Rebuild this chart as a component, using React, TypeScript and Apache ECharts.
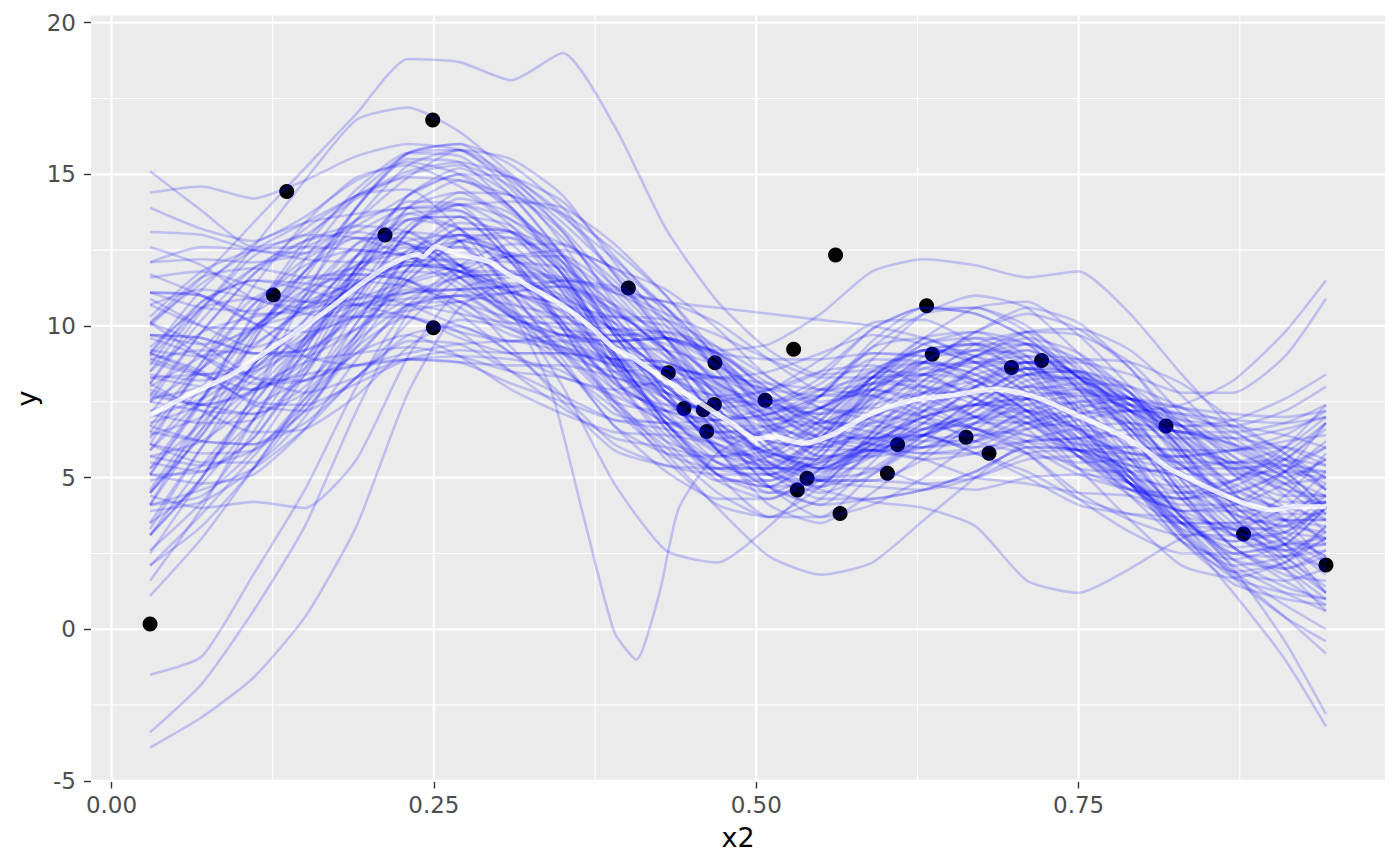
import React, { useEffect, useRef } from "react";
import * as echarts from "echarts";

const X_GRID = [0.0299, 0.07, 0.11, 0.15, 0.19, 0.23, 0.27, 0.31, 0.35, 0.39, 0.43, 0.47, 0.51, 0.55, 0.59, 0.63, 0.67, 0.71, 0.75, 0.79, 0.83, 0.87, 0.91, 0.9418];

const DRAWS = [
  [11.1, 11.0, 10.4, 10.5, 12.3, 14.3, 15.2, 14.3, 12.3, 9.7, 7.6, 6.3, 6.5, 7.7, 9.3, 9.6, 8.8, 7.8, 6.5, 5.8, 5.7, 5.9, 6.4, 7.2],
  [3.1, 5.0, 7.4, 9.5, 10.3, 10.3, 9.6, 9.1, 9.1, 8.9, 8.8, 7.9, 6.1, 4.9, 4.9, 5.6, 6.8, 7.8, 7.7, 6.6, 4.5, 2.7, 1.6, 0.8],
  [5.1, 7.5, 10.4, 12.8, 14.3, 14.5, 13.2, 11.1, 9.1, 7.5, 7.2, 7.5, 7.9, 8.5, 8.7, 8.0, 7.0, 6.2, 5.3, 5.2, 5.3, 5.5, 5.4, 4.8],
  [9.1, 8.5, 7.4, 7.2, 8.3, 10.1, 11.6, 12.3, 12.3, 11.1, 9.2, 6.7, 4.7, 4.1, 5.5, 7.2, 8.6, 9.4, 8.9, 7.2, 4.9, 3.1, 2.6, 3.2],
  [12.6, 12.0, 10.9, 10.6, 10.9, 11.5, 12.0, 12.3, 12.5, 11.9, 10.6, 8.5, 6.5, 5.5, 5.9, 6.8, 8.0, 9.0, 8.9, 7.8, 5.9, 3.9, 2.4, 1.4],
  [1.6, 4.0, 6.9, 9.4, 11.7, 13.1, 12.8, 11.1, 8.9, 6.7, 5.8, 5.7, 6.1, 7.1, 8.3, 8.4, 7.6, 6.6, 5.3, 4.6, 4.3, 4.7, 5.6, 6.6],
  [8.1, 10.5, 12.3, 13.0, 12.9, 12.3, 11.2, 10.1, 9.7, 9.5, 9.6, 9.1, 8.1, 7.3, 7.1, 6.8, 6.4, 6.6, 6.9, 7.2, 7.1, 6.9, 6.8, 7.0],
  [6.1, 5.5, 5.5, 7.0, 9.7, 12.3, 13.6, 13.3, 11.7, 9.1, 6.8, 5.1, 4.5, 5.3, 7.1, 8.4, 9.2, 9.0, 7.3, 5.2, 3.1, 1.7, 1.2, 1.0],
  [2.6, 4.2, 6.5, 9.2, 11.9, 13.9, 14.4, 13.3, 11.3, 8.7, 6.6, 5.1, 4.7, 5.7, 7.7, 9.0, 9.4, 8.8, 7.1, 5.2, 3.5, 2.7, 3.0, 4.2],
  [11.6, 11.8, 11.3, 10.8, 10.7, 10.7, 10.4, 10.1, 10.1, 9.9, 9.8, 9.1, 7.9, 6.9, 6.5, 6.2, 6.2, 6.8, 7.1, 7.2, 6.7, 5.9, 5.0, 3.8],
  [9.6, 9.0, 8.3, 8.2, 9.1, 10.7, 12.0, 12.7, 12.7, 11.5, 9.6, 7.3, 5.3, 4.5, 5.1, 6.2, 7.4, 8.4, 8.5, 8.0, 6.7, 5.1, 3.6, 2.2],
  [4.6, 7.0, 9.5, 11.8, 13.5, 13.9, 12.8, 10.7, 8.7, 7.1, 6.8, 6.9, 7.3, 8.1, 9.1, 9.0, 8.2, 7.2, 5.7, 4.4, 3.5, 3.5, 4.4, 5.8],
  [6.1, 5.8, 5.9, 7.2, 9.5, 11.9, 13.2, 13.1, 11.9, 9.7, 7.8, 6.3, 5.9, 6.7, 8.3, 9.4, 9.8, 9.4, 7.9, 6.0, 3.9, 2.3, 1.4, 1.0],
  [8.1, 10.2, 11.9, 12.8, 13.1, 12.7, 11.6, 10.3, 9.5, 8.9, 8.6, 7.9, 6.7, 5.9, 5.9, 5.8, 5.8, 6.2, 6.3, 6.4, 6.3, 6.3, 6.6, 7.0],
  [10.1, 11.6, 11.9, 11.6, 11.5, 11.3, 10.8, 10.3, 10.3, 10.3, 10.2, 9.3, 7.7, 6.5, 6.3, 6.4, 7.0, 8.0, 8.3, 7.8, 6.3, 4.7, 4.0, 4.4],
  [4.1, 4.4, 5.9, 8.4, 11.1, 13.3, 14.0, 13.1, 11.1, 8.3, 6.2, 4.9, 4.9, 6.1, 7.9, 8.8, 8.6, 7.6, 5.9, 4.6, 3.9, 3.9, 4.0, 3.6],
  [7.1, 9.2, 10.9, 11.6, 11.7, 11.5, 10.8, 9.9, 9.3, 8.7, 8.6, 8.3, 7.9, 7.7, 7.7, 7.2, 6.6, 6.0, 5.1, 4.6, 4.5, 4.9, 5.8, 6.8],
  [7.1, 6.8, 6.9, 8.4, 10.9, 13.1, 14.0, 13.5, 12.1, 9.9, 7.8, 5.9, 4.7, 4.9, 6.5, 8.0, 9.0, 9.6, 9.1, 7.8, 5.7, 3.7, 2.2, 1.2],
  [4.1, 7.0, 9.7, 11.8, 12.9, 12.9, 11.8, 10.5, 9.9, 9.7, 9.8, 9.3, 8.3, 7.3, 6.9, 6.4, 6.0, 6.2, 6.3, 6.6, 6.5, 6.1, 5.2, 4.0],
  [10.1, 9.0, 8.1, 8.2, 9.7, 11.7, 13.0, 12.9, 11.5, 8.9, 6.6, 4.9, 4.3, 5.3, 7.3, 8.8, 9.6, 9.4, 7.9, 5.8, 3.7, 2.5, 2.8, 4.0],
  [8.9, 8.4, 7.9, 8.6, 10.7, 13.1, 14.4, 14.3, 13.1, 10.7, 8.2, 5.9, 4.5, 4.7, 6.5, 8.2, 9.4, 9.8, 8.7, 6.8, 4.5, 2.7, 2.0, 2.4],
  [5.3, 7.6, 9.9, 11.4, 11.9, 11.5, 10.4, 9.1, 8.3, 7.9, 8.2, 8.3, 8.1, 7.9, 7.7, 7.0, 6.2, 5.8, 5.5, 5.6, 5.7, 5.9, 6.0, 5.6],
  [2.1, 3.4, 5.3, 7.8, 10.5, 12.5, 13.0, 12.1, 10.5, 8.5, 7.2, 6.5, 6.5, 7.3, 8.5, 8.8, 8.4, 7.6, 6.3, 5.2, 4.5, 4.5, 5.2, 6.2],
  [12.1, 12.6, 12.5, 12.2, 12.1, 12.1, 11.8, 11.3, 10.9, 10.1, 9.2, 7.7, 6.1, 5.3, 5.7, 6.4, 7.2, 8.0, 7.9, 7.2, 5.7, 4.1, 2.8, 1.8],
  [7.9, 7.4, 7.1, 7.8, 9.7, 11.9, 13.2, 13.1, 11.7, 9.1, 6.8, 5.1, 4.7, 5.9, 8.1, 9.4, 9.6, 8.8, 6.9, 4.8, 2.9, 1.9, 2.2, 3.4],
  [6.3, 8.6, 10.7, 12.2, 12.9, 12.7, 11.6, 10.3, 9.7, 9.5, 9.6, 9.1, 7.9, 6.7, 6.1, 5.8, 6.0, 6.8, 7.3, 7.6, 7.3, 6.7, 5.8, 4.6],
  [9.1, 10.8, 11.5, 11.4, 11.1, 10.7, 10.0, 9.5, 9.5, 9.5, 9.6, 8.9, 7.5, 6.3, 5.9, 5.6, 5.8, 6.6, 7.1, 7.4, 7.1, 6.5, 5.6, 4.6],
  [5.1, 5.2, 6.3, 8.6, 11.5, 13.9, 14.8, 13.9, 11.9, 9.1, 6.8, 5.3, 5.1, 6.3, 8.3, 9.6, 9.8, 9.0, 7.1, 5.0, 3.1, 2.1, 2.4, 3.4],
  [5.5, 5.2, 6.3, 8.8, 11.9, 14.3, 15.0, 13.9, 11.7, 8.9, 6.8, 5.5, 5.3, 6.3, 7.9, 8.6, 8.2, 7.2, 5.7, 4.6, 4.3, 4.9, 6.0, 7.4],
  [8.7, 10.8, 11.5, 11.2, 10.7, 10.3, 9.8, 9.5, 9.7, 9.7, 9.6, 8.7, 7.3, 6.3, 6.3, 6.6, 7.4, 8.4, 8.5, 7.8, 5.9, 3.7, 2.0, 0.6],
  [10.9, 10.0, 9.3, 10.0, 11.9, 13.5, 13.6, 12.1, 9.9, 7.5, 6.2, 5.7, 5.9, 6.9, 8.3, 8.8, 8.4, 7.4, 5.9, 4.8, 4.1, 4.1, 4.8, 5.6],
  [3.3, 6.0, 8.5, 10.0, 10.7, 11.1, 11.2, 11.3, 11.5, 11.1, 10.2, 8.5, 6.7, 5.7, 5.9, 6.4, 7.2, 8.2, 8.3, 7.6, 6.1, 4.5, 3.2, 2.4],
  [4.5, 6.4, 8.7, 10.8, 12.3, 12.7, 12.0, 11.1, 10.7, 10.3, 10.0, 8.9, 7.3, 6.1, 5.9, 6.0, 6.6, 7.6, 7.9, 7.6, 6.3, 4.5, 2.8, 1.2],
  [9.7, 9.6, 9.1, 9.2, 10.3, 11.9, 12.8, 12.3, 10.7, 8.3, 6.4, 5.3, 5.3, 6.5, 8.3, 9.2, 9.0, 8.0, 6.3, 4.8, 3.9, 4.1, 5.2, 6.8],
  [13.1, 13.0, 12.5, 12.4, 13.1, 13.9, 13.8, 12.7, 11.1, 9.1, 7.8, 7.1, 6.9, 7.3, 8.1, 8.2, 7.8, 7.2, 6.3, 5.8, 5.5, 5.5, 5.6, 5.4],
  [1.1, 3.0, 5.3, 7.6, 9.5, 10.7, 11.0, 10.7, 10.3, 9.5, 8.6, 7.1, 5.7, 5.3, 6.1, 7.0, 7.8, 8.4, 7.9, 6.6, 4.7, 3.1, 2.4, 2.6],
  [6.5, 8.6, 9.9, 10.4, 10.7, 10.9, 11.0, 11.1, 11.5, 11.3, 10.6, 8.9, 6.9, 5.7, 5.7, 6.0, 6.8, 7.8, 8.1, 8.0, 7.3, 6.3, 5.2, 4.0],
  [7.7, 7.4, 7.9, 9.6, 11.9, 13.7, 13.8, 12.3, 9.9, 7.3, 5.8, 5.3, 5.7, 6.9, 8.5, 9.2, 8.8, 7.8, 6.1, 4.4, 2.9, 2.3, 2.8, 4.0],
  [8.5, 9.8, 10.3, 10.6, 11.3, 12.3, 12.8, 12.3, 10.9, 8.7, 7.0, 5.9, 5.7, 6.5, 7.7, 8.0, 7.6, 7.0, 6.1, 5.6, 5.3, 5.3, 5.4, 5.2],
  [5.7, 6.2, 7.5, 9.4, 11.3, 12.3, 12.0, 11.1, 10.5, 9.9, 9.4, 8.3, 6.9, 6.1, 6.5, 7.2, 8.0, 8.6, 8.1, 6.8, 4.9, 3.3, 2.6, 2.8],
  [5.9, 7.6, 9.3, 10.6, 11.5, 12.1, 12.2, 12.1, 11.9, 10.7, 9.0, 6.9, 5.1, 4.7, 5.9, 7.4, 8.6, 9.2, 8.3, 6.6, 4.5, 3.3, 3.4, 4.4],
  [8.3, 8.4, 8.5, 9.4, 11.1, 12.5, 12.6, 11.3, 9.5, 7.9, 7.4, 7.3, 7.5, 7.9, 8.3, 7.8, 7.0, 6.4, 5.9, 5.8, 5.7, 5.3, 4.6, 3.6],
  [9.7, 9.6, 9.1, 9.0, 9.9, 11.5, 12.8, 13.1, 12.3, 10.1, 7.8, 5.9, 5.1, 5.9, 7.9, 9.2, 9.4, 8.6, 6.7, 4.8, 3.3, 2.9, 3.6, 4.8],
  [4.5, 6.4, 8.7, 11.0, 12.7, 13.1, 12.0, 10.3, 9.1, 8.5, 8.6, 8.3, 7.5, 6.7, 6.3, 6.0, 6.2, 7.0, 7.5, 7.6, 6.9, 5.7, 4.4, 3.2],
  [3.5, 4.8, 6.9, 9.6, 12.3, 14.1, 14.0, 12.3, 10.1, 7.9, 6.8, 6.5, 6.7, 7.3, 7.9, 7.6, 7.0, 6.8, 6.7, 6.8, 6.5, 6.1, 5.6, 5.0],
  [10.7, 11.2, 10.9, 10.4, 10.3, 10.5, 10.8, 11.1, 11.3, 10.7, 9.6, 7.7, 5.9, 5.3, 6.3, 7.6, 8.6, 8.8, 7.5, 5.6, 3.7, 2.5, 2.4, 3.0],
  [7.5, 9.8, 11.7, 12.8, 13.3, 13.1, 12.0, 10.5, 9.3, 8.3, 8.0, 7.7, 7.3, 7.1, 7.3, 7.0, 6.6, 6.4, 6.1, 6.0, 5.9, 5.9, 6.2, 6.4],
  [6.7, 6.2, 6.1, 7.2, 9.3, 11.5, 12.8, 12.9, 12.1, 10.3, 8.4, 6.5, 5.3, 5.5, 6.9, 8.2, 9.0, 9.2, 8.1, 6.4, 4.3, 2.7, 1.8, 1.6],
  [11.7, 11.0, 10.1, 9.8, 10.3, 11.1, 11.6, 11.7, 11.5, 10.5, 9.2, 7.3, 5.5, 4.9, 5.7, 6.8, 8.0, 8.8, 8.5, 7.4, 5.5, 3.7, 2.6, 2.0],
  [2.5, 5.0, 7.7, 10.2, 12.3, 13.5, 13.2, 11.7, 9.9, 8.1, 7.2, 6.9, 7.1, 7.7, 8.5, 8.4, 7.6, 6.8, 5.7, 5.0, 4.7, 4.9, 5.4, 6.0],
  [4.9, 5.4, 6.9, 9.2, 11.7, 13.5, 13.6, 12.1, 10.1, 8.1, 7.2, 6.9, 7.1, 7.9, 8.9, 8.8, 8.0, 7.0, 5.7, 4.8, 4.3, 4.5, 5.2, 6.0],
  [9.3, 10.6, 10.9, 10.8, 10.9, 11.1, 11.2, 11.3, 11.3, 10.5, 9.2, 7.3, 5.5, 4.7, 5.3, 6.4, 7.6, 8.6, 8.5, 7.6, 5.9, 4.1, 2.8, 2.0],
  [8.3, 8.0, 7.9, 8.8, 10.9, 13.1, 14.2, 13.7, 12.1, 9.7, 7.6, 6.1, 5.5, 6.3, 8.1, 9.2, 9.2, 8.4, 6.7, 5.0, 3.5, 2.9, 3.2, 4.0],
  [5.9, 8.0, 9.9, 11.2, 11.7, 11.5, 10.6, 9.7, 9.3, 8.9, 8.8, 8.1, 7.1, 6.3, 6.1, 6.0, 6.4, 7.2, 7.5, 7.4, 6.7, 5.7, 4.8, 4.0],
  [6.7, 8.8, 10.7, 12.0, 12.5, 12.3, 11.4, 10.3, 9.7, 9.3, 9.2, 8.7, 7.7, 6.9, 6.7, 6.6, 6.8, 7.4, 7.7, 7.6, 6.7, 5.3, 4.0, 2.8],
  [7.5, 7.2, 7.1, 8.0, 10.1, 12.3, 13.4, 13.1, 11.7, 9.3, 7.2, 5.5, 4.9, 5.7, 7.5, 8.6, 8.8, 8.2, 6.5, 4.8, 3.5, 3.3, 4.0, 5.2],
  [10.3, 11.8, 12.5, 12.6, 12.5, 12.3, 11.8, 11.1, 10.7, 9.9, 9.0, 7.5, 5.9, 5.3, 6.1, 7.2, 8.2, 8.8, 8.3, 7.0, 5.1, 3.5, 2.8, 2.8],
  [3.9, 4.2, 5.3, 7.4, 10.1, 12.3, 13.0, 12.3, 10.7, 8.7, 7.4, 6.7, 6.7, 7.3, 8.1, 8.0, 7.4, 6.8, 5.9, 5.4, 5.1, 5.1, 5.2, 5.2],
  [5.3, 6.8, 8.7, 10.8, 12.7, 13.7, 13.2, 11.7, 10.1, 8.5, 7.8, 7.5, 7.5, 7.7, 7.9, 7.4, 6.6, 6.2, 5.9, 6.0, 5.9, 5.5, 4.8, 3.8],
  [8.9, 9.2, 9.1, 9.2, 9.9, 10.9, 11.6, 11.7, 11.3, 10.1, 8.6, 6.7, 5.1, 4.9, 6.3, 7.8, 9.0, 9.4, 8.3, 6.4, 4.3, 3.1, 3.2, 4.2],
  [10.1, 11.4, 12.5, 13.4, 14.3, 15.1, 15.4, 14.9, 13.7, 11.7, 9.8, 8.1, 7.5, 8.3, 9.9, 10.6, 10.4, 9.6, 8.3, 7.6, 7.3, 7.1, 7.0, 7.2],
  [4.1, 4.6, 5.3, 6.6, 8.3, 9.5, 9.4, 8.5, 7.7, 6.9, 6.6, 6.1, 5.1, 4.3, 4.3, 4.6, 5.2, 6.0, 5.9, 4.8, 2.9, 1.5, 1.0, 0.8],
  [5.1, 7.6, 10.3, 12.6, 14.5, 15.7, 15.6, 14.3, 12.3, 9.9, 8.4, 7.7, 7.9, 8.9, 10.1, 10.2, 9.4, 8.4, 7.3, 6.8, 6.5, 6.3, 6.0, 5.4],
  [9.1, 8.4, 7.5, 7.4, 8.1, 8.9, 9.2, 9.1, 9.1, 8.7, 8.0, 6.5, 4.7, 3.7, 4.1, 5.0, 6.2, 7.2, 6.9, 5.6, 3.7, 2.3, 2.0, 2.6],
  [11.1, 10.6, 10.5, 11.8, 13.9, 15.7, 16.0, 14.7, 12.7, 10.3, 8.8, 8.3, 8.5, 9.1, 9.7, 9.4, 8.8, 8.8, 8.9, 8.8, 8.1, 6.9, 5.8, 5.0],
  [3.1, 5.4, 7.3, 8.2, 8.7, 8.9, 8.8, 8.7, 8.7, 8.3, 7.6, 5.9, 4.1, 3.5, 4.5, 5.8, 6.8, 6.8, 5.3, 3.6, 2.1, 1.7, 2.2, 3.0],
  [7.7, 9.8, 11.7, 13.2, 14.3, 14.9, 14.8, 14.3, 13.7, 12.5, 11.0, 9.1, 7.5, 7.1, 8.3, 9.6, 10.6, 10.8, 9.7, 8.0, 6.3, 5.5, 6.0, 7.0],
  [6.5, 6.2, 6.1, 6.8, 8.3, 9.7, 10.0, 9.1, 7.7, 6.1, 5.4, 5.1, 5.1, 5.5, 5.9, 5.6, 5.0, 4.8, 4.5, 4.4, 3.9, 3.1, 2.0, 1.0],
  [12.1, 12.2, 12.1, 12.4, 13.5, 14.9, 15.8, 15.5, 14.3, 12.1, 10.0, 8.1, 7.1, 7.7, 9.3, 10.4, 10.6, 10.0, 8.5, 7.2, 6.5, 6.5, 6.8, 7.4],
  [2.1, 3.8, 5.7, 7.6, 9.1, 9.7, 9.0, 7.9, 7.1, 6.5, 6.4, 6.1, 5.5, 4.9, 4.9, 4.8, 5.0, 5.6, 5.7, 5.2, 3.7, 2.1, 1.2, 0.6],
  [6.1, 8.8, 11.3, 13.4, 14.9, 15.3, 14.6, 13.5, 12.7, 11.9, 11.2, 9.9, 8.3, 7.5, 7.9, 8.8, 9.8, 10.4, 9.9, 8.6, 6.7, 5.1, 4.4, 4.4],
  [8.1, 7.2, 6.5, 6.6, 7.7, 9.3, 10.2, 9.9, 8.7, 6.7, 5.2, 4.3, 4.3, 5.1, 6.3, 6.4, 5.8, 5.2, 4.3, 3.8, 3.5, 3.5, 3.6, 3.6],
  [9.1, 11.2, 12.7, 13.4, 13.7, 13.9, 14.0, 14.1, 13.9, 12.7, 11.0, 8.9, 7.3, 7.3, 8.9, 10.4, 11.0, 10.6, 9.1, 7.6, 6.7, 6.7, 7.2, 8.0],
  [5.1, 4.8, 5.1, 6.6, 8.9, 10.7, 10.8, 9.3, 7.5, 5.9, 5.4, 5.3, 5.3, 5.3, 5.3, 4.8, 4.6, 5.0, 5.1, 4.8, 3.5, 1.9, 0.8, 0.0],
  [10.7, 10.0, 9.9, 11.2, 13.5, 15.3, 15.8, 14.9, 13.1, 10.9, 9.6, 9.1, 8.9, 8.9, 9.1, 9.0, 9.2, 9.8, 9.7, 8.8, 7.1, 5.5, 5.0, 5.6],
  [3.5, 6.0, 7.9, 8.8, 9.1, 9.3, 9.0, 8.5, 8.3, 7.7, 6.8, 5.1, 3.7, 3.7, 5.1, 6.2, 6.4, 5.8, 4.5, 3.6, 3.1, 3.1, 3.0, 2.4],
  [4.1, 6.6, 9.5, 12.2, 14.3, 15.7, 16.0, 15.3, 13.9, 11.7, 9.6, 7.7, 6.9, 7.7, 9.5, 10.6, 10.6, 9.8, 8.3, 7.2, 6.7, 6.9, 7.6, 8.4],
  [10.1, 9.4, 8.3, 7.8, 8.3, 8.9, 8.8, 8.1, 7.5, 6.9, 6.8, 6.5, 5.7, 4.9, 4.7, 4.6, 5.0, 5.8, 5.9, 5.2, 3.5, 1.7, 0.4, -0.4],
  [8.5, 10.6, 11.9, 12.6, 13.3, 14.3, 15.0, 14.9, 14.1, 12.3, 10.4, 8.7, 7.9, 8.5, 9.9, 10.6, 10.4, 9.6, 8.3, 7.4, 6.9, 6.7, 6.4, 6.0],
  [5.7, 5.4, 5.9, 7.4, 9.3, 10.3, 9.8, 8.5, 7.3, 6.3, 6.0, 5.5, 4.7, 4.1, 4.3, 4.6, 5.2, 6.0, 5.9, 5.0, 3.3, 1.9, 1.6, 2.0],
  [3.1, 5.0, 7.7, 11.0, 13.9, 15.7, 15.8, 14.5, 12.9, 11.3, 10.4, 9.7, 8.9, 8.3, 8.3, 8.4, 9.0, 9.8, 9.9, 9.2, 7.7, 6.1, 5.2, 5.0],
  [11.1, 11.0, 10.1, 9.0, 8.7, 8.9, 9.0, 8.9, 8.5, 7.3, 6.0, 4.5, 3.7, 4.3, 5.9, 6.8, 6.6, 5.8, 4.3, 3.2, 2.5, 2.5, 2.8, 3.0],
  [9.7, 9.4, 9.9, 11.6, 13.9, 15.5, 15.4, 13.9, 12.3, 11.1, 10.8, 10.1, 8.9, 7.9, 8.1, 8.8, 9.8, 10.6, 10.1, 8.6, 6.5, 5.3, 5.6, 6.8],
  [4.5, 6.6, 7.9, 8.4, 8.7, 9.1, 9.4, 9.5, 9.1, 7.5, 5.6, 4.1, 3.7, 4.7, 6.1, 6.4, 5.8, 5.0, 4.1, 3.8, 3.7, 3.3, 2.4, 1.2],
  [-3.4, -1.8, 0.6, 3.4, 7.2, 10.4, 11.8, 12.4, 11.4, 9.0, 7.0, 5.8, 5.4, 6.2, 7.6, 8.4, 8.2, 7.2, 6.0, 5.4, 5.0, 4.2, 3.0, 2.2],
  [-3.9, -2.9, -1.6, 0.4, 3.4, 7.8, 10.6, 11.4, 11.0, 9.8, 8.4, 7.2, 6.2, 6.0, 6.6, 7.4, 7.8, 8.0, 7.6, 6.6, 5.4, 4.4, 4.0, 4.2],
  [-1.5, -0.9, 1.8, 4.6, 8.0, 10.6, 11.0, 10.0, 9.2, 8.8, 8.6, 7.8, 6.2, 5.0, 5.2, 6.4, 7.6, 8.6, 8.4, 7.0, 5.2, 3.8, 3.4, 4.0],
  [4.4, 4.0, 4.2, 4.0, 5.6, 9.0, 11.2, 11.6, 10.8, 9.4, 8.0, 6.8, 5.8, 5.6, 6.2, 7.0, 7.4, 7.6, 7.2, 6.2, 5.0, 4.0, 3.6, 3.6],
  [10.0, 11.6, 13.4, 15.2, 17.0, 18.8, 18.7, 18.1, 19.0, 16.6, 13.2, 10.8, 9.2, 8.4, 8.6, 9.2, 9.4, 9.4, 8.6, 7.4, 6.0, 4.8, 4.2, 4.2],
  [7.5, 8.6, 9.8, 11.0, 12.0, 12.4, 12.0, 10.6, 8.0, 4.8, 2.6, 2.2, 3.4, 5.0, 6.0, 6.4, 7.0, 7.6, 7.8, 7.6, 7.0, 6.0, 5.0, 4.4],
  [7.0, 7.6, 8.6, 10.0, 11.4, 12.0, 11.8, 11.0, 10.0, 8.8, 7.8, 7.0, 6.2, 6.0, 6.4, 7.0, 7.4, 7.6, 7.4, 7.2, 7.4, 8.2, 9.8, 11.5],
  [8.4, 8.2, 8.8, 10.2, 11.8, 12.8, 13.0, 12.4, 11.2, 9.8, 8.4, 7.4, 6.6, 6.4, 7.0, 7.8, 8.4, 8.8, 8.8, 8.4, 7.8, 7.8, 9.0, 10.9],
  [6.8, 7.4, 8.4, 9.8, 11.2, 12.0, 12.0, 11.2, 10.2, 8.8, 7.6, 6.6, 5.8, 5.6, 6.2, 7.0, 7.4, 7.4, 6.6, 5.0, 3.2, 1.2, -1.0, -3.2],
  [7.6, 8.0, 8.8, 10.0, 11.4, 12.2, 12.4, 11.8, 10.8, 9.4, 8.0, 6.8, 5.8, 5.4, 5.8, 6.6, 7.0, 7.2, 6.6, 5.4, 3.8, 2.0, -0.4, -2.8],
  [9.2, 9.0, 9.4, 10.6, 12.0, 12.6, 12.4, 11.6, 10.4, 9.0, 7.6, 6.4, 5.4, 5.2, 5.8, 6.6, 7.0, 7.0, 6.2, 4.8, 3.2, 1.8, 0.4, -0.8],
  [8.8, 8.4, 8.8, 10.0, 11.4, 12.0, 11.8, 10.8, 9.6, 8.2, 7.0, 6.0, 5.2, 4.6, 4.2, 4.0, 3.4, 1.6, 1.2, 2.0, 3.0, 3.4, 3.2, 3.0],
  [6.4, 7.0, 8.2, 9.6, 11.2, 12.2, 12.6, 12.2, 11.4, 10.4, 9.6, 9.2, 9.4, 10.4, 11.8, 12.2, 12.0, 11.6, 11.8, 10.4, 8.4, 6.6, 5.4, 4.6],
  [7.8, 7.4, 7.8, 9.0, 10.4, 11.2, 11.2, 10.4, 9.2, 7.6, 5.8, 4.0, 2.4, 1.8, 2.2, 3.6, 5.0, 6.2, 6.6, 6.2, 5.4, 4.4, 3.6, 3.0],
  [15.1, 13.8, 12.6, 13.0, 14.2, 15.0, 15.3, 14.6, 13.2, 11.3, 9.6, 8.2, 7.0, 6.8, 7.6, 8.4, 8.8, 9.0, 8.4, 7.2, 5.8, 4.6, 4.0, 4.2],
  [14.4, 14.6, 14.2, 14.8, 15.6, 16.0, 15.8, 14.8, 13.4, 11.8, 10.2, 8.6, 7.2, 6.6, 7.0, 7.8, 8.2, 8.6, 8.0, 6.8, 5.4, 4.2, 3.6, 3.4],
  [13.9, 13.2, 12.8, 13.6, 14.8, 15.4, 15.0, 13.8, 12.4, 10.6, 9.2, 8.0, 6.8, 6.2, 6.8, 7.6, 8.0, 8.4, 8.2, 7.4, 6.4, 5.4, 4.8, 5.0],
  [9.0, 10.6, 12.6, 14.8, 16.8, 17.2, 16.4, 15.0, 13.6, 12.2, 10.6, 9.0, 7.6, 6.8, 6.8, 7.2, 7.4, 7.2, 6.6, 5.6, 4.6, 3.8, 3.4, 3.2],
  [7.2, 7.8, 8.6, 9.6, 10.6, 11.4, 11.8, 11.8, 11.6, 11.2, 10.8, 10.6, 10.4, 10.2, 10.0, 9.6, 9.0, 8.6, 8.0, 7.2, 6.2, 5.2, 4.6, 4.4],
];

const DIP_X = [0.0299, 0.07, 0.11, 0.15, 0.19, 0.23, 0.27, 0.31, 0.34, 0.365, 0.39, 0.407, 0.425, 0.44, 0.47, 0.51, 0.55, 0.59, 0.63, 0.67, 0.71, 0.75, 0.79, 0.83, 0.87, 0.91, 0.9418];
const DIP_Y = [8.0, 9.0, 10.0, 10.8, 11.4, 11.8, 11.6, 10.4, 8.0, 3.9, -0.1, -1.0, 1.2, 4.0, 5.8, 6.6, 6.8, 7.4, 7.8, 7.8, 7.6, 7.0, 6.0, 5.0, 4.2, 3.8, 3.8];

const MEAN_X = [0.0299, 0.0661, 0.0919, 0.1177, 0.1436, 0.1694, 0.1953, 0.216, 0.2367, 0.2416, 0.2509, 0.2703, 0.2935, 0.3036, 0.3246, 0.3501, 0.3734, 0.3889, 0.4044, 0.4277, 0.454, 0.4796, 0.5006, 0.5142, 0.5363, 0.5584, 0.5898, 0.6216, 0.6533, 0.6849, 0.7007, 0.7228, 0.748, 0.7797, 0.8019, 0.8177, 0.8431, 0.8747, 0.9, 0.9158, 0.9316, 0.9418];
const MEAN_Y = [7.06, 7.86, 8.37, 9.09, 9.81, 10.59, 11.44, 12.02, 12.35, 12.28, 12.61, 12.35, 12.11, 11.82, 11.29, 10.66, 9.91, 9.29, 8.95, 8.27, 7.53, 6.83, 6.28, 6.35, 6.13, 6.41, 7.12, 7.56, 7.72, 7.91, 7.83, 7.56, 7.07, 6.46, 5.91, 5.36, 4.81, 4.21, 3.93, 4.04, 4.04, 4.04];

const POINT_X = [0.0299, 0.1255, 0.1359, 0.2121, 0.2491, 0.2496, 0.4008, 0.4318, 0.444, 0.459, 0.4675, 0.468, 0.4616, 0.5069, 0.529, 0.5318, 0.5394, 0.5615, 0.565, 0.6017, 0.6096, 0.6321, 0.6365, 0.6627, 0.6805, 0.6979, 0.7213, 0.8178, 0.8779, 0.9418];
const POINT_Y = [0.17, 11.02, 14.43, 13.0, 16.79, 9.94, 11.25, 8.46, 7.28, 7.24, 7.41, 8.79, 6.52, 7.55, 9.23, 4.59, 4.98, 12.34, 3.82, 5.14, 6.09, 10.67, 9.07, 6.33, 5.8, 8.63, 8.86, 6.7, 3.14, 2.12];

const X_TICKS = [0, 0.25, 0.5, 0.75];
const X_MINOR = [0.125, 0.375, 0.625, 0.875];
const Y_TICKS = [-5, 0, 5, 10, 15, 20];
const Y_MINOR = [-2.5, 2.5, 7.5, 12.5, 17.5];

const X_MIN = -0.0159;
const X_MAX = 0.9876;
const Y_MIN = -5.02;
const Y_MAX = 20.24;

const FONT = "DejaVu Sans";
const DRAW_COLOR = "rgba(0,0,255,0.19)";

export default function App() {
  const ref = useRef<HTMLDivElement>(null);

  useEffect(() => {
    if (!ref.current) return;
    const chart = echarts.init(ref.current, undefined, { renderer: "svg" });

    const gridData: number[][] = [];
    X_TICKS.forEach((v) => gridData.push([0, v, 1]));
    X_MINOR.forEach((v) => gridData.push([0, v, 0]));
    Y_TICKS.forEach((v) => gridData.push([1, v, 1]));
    Y_MINOR.forEach((v) => gridData.push([1, v, 0]));

    const drawSeries: any[] = DRAWS.map((d) => ({
      type: "line",
      data: X_GRID.map((x, i) => [x, d[i]]),
      showSymbol: false,
      symbol: "none",
      smooth: 0.2,
      silent: true,
      z: 4,
      lineStyle: { color: DRAW_COLOR, width: 2.6 },
    }));
    drawSeries.push({
      type: "line",
      data: DIP_X.map((x, i) => [x, DIP_Y[i]]),
      showSymbol: false,
      symbol: "none",
      smooth: 0.2,
      silent: true,
      z: 4,
      lineStyle: { color: DRAW_COLOR, width: 2.6 },
    });

    const tickStyle = { color: "#333333", width: 1.4 };

    const option: any = {
      animation: false,
      backgroundColor: "#FFFFFF",
      grid: {
        left: 91,
        right: 15,
        top: 15.4,
        bottom: 84.5,
        show: true,
        backgroundColor: "#EBEBEB",
        borderWidth: 0,
        containLabel: false,
        outerBoundsMode: "none",
      },
      xAxis: {
        type: "value",
        min: X_MIN,
        max: X_MAX,
        axisLine: { show: false, onZero: false },
        splitLine: { show: false },
        axisTick: { show: true, customValues: X_TICKS, length: 7, lineStyle: tickStyle },
        axisLabel: {
          customValues: X_TICKS,
          formatter: (v: number) => v.toFixed(2),
          fontSize: 23,
          color: "#4D4D4D",
          fontFamily: FONT,
          margin: 12,
        },
        name: "x2",
        nameLocation: "middle",
        nameGap: 42,
        nameMoveOverlap: false,
        nameTextStyle: { fontSize: 27, color: "#000000", fontFamily: FONT },
      },
      yAxis: {
        type: "value",
        min: Y_MIN,
        max: Y_MAX,
        axisLine: { show: false, onZero: false },
        splitLine: { show: false },
        axisTick: { show: true, customValues: Y_TICKS, length: 7, lineStyle: tickStyle },
        axisLabel: {
          customValues: Y_TICKS,
          formatter: (v: number) => String(v),
          fontSize: 23,
          color: "#4D4D4D",
          fontFamily: FONT,
          margin: 15,
        },
        name: "y",
        nameLocation: "middle",
        nameGap: 51,
        nameMoveOverlap: false,
        nameTextStyle: { fontSize: 27, color: "#000000", fontFamily: FONT },
      },
      series: [
        {
          type: "custom",
          silent: true,
          z: 1,
          data: gridData,
          renderItem: (params: any, api: any) => {
            const o = api.value(0);
            const v = api.value(1);
            const major = api.value(2) === 1;
            const cs = params.coordSys;
            const w = major ? 2.2 : 1.1;
            if (o === 0) {
              const px = api.coord([v, 0])[0];
              return {
                type: "line",
                shape: { x1: px, y1: cs.y, x2: px, y2: cs.y + cs.height },
                style: { stroke: "#FFFFFF", lineWidth: w },
              };
            }
            const py = api.coord([0, v])[1];
            return {
              type: "line",
              shape: { x1: cs.x, y1: py, x2: cs.x + cs.width, y2: py },
              style: { stroke: "#FFFFFF", lineWidth: w },
            };
          },
        },
        {
          type: "scatter",
          data: POINT_X.map((x, i) => [x, POINT_Y[i]]),
          symbol: "circle",
          symbolSize: 15,
          silent: true,
          z: 3,
          itemStyle: { color: "#000000", opacity: 1 },
        },
        ...drawSeries,
        {
          type: "line",
          data: MEAN_X.map((x, i) => [x, MEAN_Y[i]]),
          showSymbol: false,
          symbol: "none",
          smooth: 0.25,
          silent: true,
          z: 5,
          lineStyle: { color: "rgba(255,255,255,0.82)", width: 5 },
        },
      ],
    };

    chart.setOption(option);
    return () => chart.dispose();
  }, []);

  return (
    <div
      ref={ref}
      style={{ position: "absolute", left: 0, top: 0, width: 1400, height: 866 }}
    />
  );
}
